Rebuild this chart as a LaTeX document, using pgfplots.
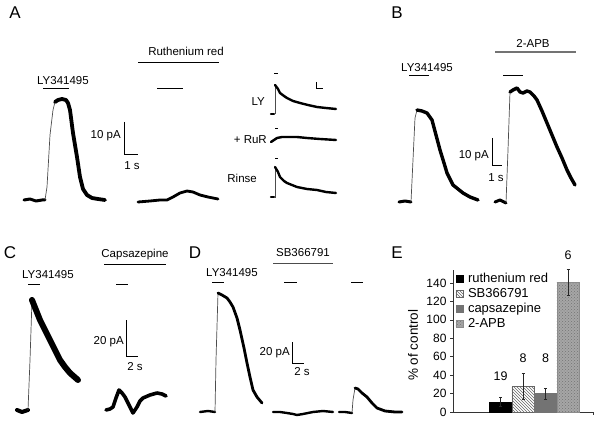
\documentclass[border=0pt]{standalone}
\usepackage{pgfplots}
\pgfplotsset{compat=1.18}
\usepackage{fontspec}
\setmainfont{Liberation Sans}
\usetikzlibrary{patterns}
\begin{document}
\begin{tikzpicture}[
  lbl/.style={font=\fontsize{11.5}{13}\selectfont, inner sep=0pt},
  big/.style={font=\fontsize{17}{20}\selectfont, inner sep=0pt},
  tr/.style={black, line width=3pt, line join=round, line cap=round},
  edge/.style={black!70, line width=0.7pt},
  appl/.style={black, line width=0.9pt},
  sbar/.style={black, line width=0.8pt},
]
\useasboundingbox (0,0) rectangle (600pt,422pt);
\begin{axis}[name=M, at={(0,0)}, anchor=south west, scale only axis,
  width=600pt, height=422pt, xmin=0, xmax=600, ymin=0, ymax=422,
  y dir=reverse, hide axis, clip=false]
% ---------- Panel A ----------
\addplot[tr] coordinates {(24,200) (30,199) (36,201) (42,200) (45,200)};
\addplot[edge] coordinates {(45,200) (47,187) (50,135) (53,110) (55,102)};
\addplot[tr, line width=3.8pt] coordinates {(55,102) (58,100) (62,99) (66,100) (68,103) (70,110) (73,133) (77,157) (80,177) (83,189) (87,195) (92,198) (98,199) (105,200)};
\addplot[tr, line width=2.8pt] coordinates {(138,202) (150,201) (160,200) (167,200) (173,197) (180,193) (187,191) (193,192) (200,195) (208,197) (218,199)};
% small traces
\addplot[tr, line width=2.4pt] coordinates {(271,114) (274,114)};
\addplot[edge] coordinates {(275,114) (275,85)};
\addplot[tr, line width=2.4pt] coordinates {(275,85) (278,89) (280,93) (284,96) (287,98) (293,101) (300,103) (308,105) (317,107) (326,108) (336,109)};
\addplot[tr, line width=2.4pt] coordinates {(271,142) (274,140) (277,138) (282,137) (287,137) (297,137) (307,138) (320,139) (336,140)};
\addplot[tr, line width=2.4pt] coordinates {(271,197) (274,197)};
\addplot[edge] coordinates {(275,198) (275,167)};
\addplot[tr, line width=2.4pt] coordinates {(275,167) (278,172) (280,177) (284,181) (287,183) (292,185) (297,187) (307,189) (317,190) (326,192) (336,193)};
\addplot[appl] coordinates {(274,73) (278,73)};
\addplot[appl] coordinates {(275,128) (278,128)};
\addplot[appl] coordinates {(275,158) (278,158)};
\addplot[sbar] coordinates {(316,82) (316,88) (323,88)};
\node[lbl, anchor=east] at (axis cs:265,102) {LY};
\node[lbl, anchor=east] at (axis cs:267,140) {+ RuR};
\node[lbl, anchor=east] at (axis cs:257,178) {Rinse};
% labels A
\node[big] at (axis cs:15,13) {A};
\node[lbl] at (axis cs:63,81) {LY341495};
\addplot[appl] coordinates {(43,88) (69,88)};
\node[lbl] at (axis cs:186,51) {Ruthenium red};
\addplot[appl] coordinates {(138,62) (219,62)};
\addplot[appl] coordinates {(157,88) (183,88)};
\addplot[sbar] coordinates {(124,122) (124,154) (138,154)};
\node[lbl, anchor=east] at (axis cs:121,136) {10 pA};
\node[lbl] at (axis cs:132,166) {1 s};
% ---------- Panel B ----------
\node[big] at (axis cs:397,13) {B};
\addplot[tr] coordinates {(399,202) (405,201) (411,202)};
\addplot[edge] coordinates {(411,202) (413,160) (415,118) (417,110)};
\addplot[tr, line width=3.4pt] coordinates {(417,110) (422,111) (427,113) (432,120) (436,135) (440,150) (444,163) (447,173) (453,185) (463,193) (470,197) (478,200)};
\addplot[tr] coordinates {(495,202) (500,200) (506,203)};
\addplot[edge] coordinates {(506,203) (508,150) (510,92)};
\addplot[tr, line width=3.4pt] coordinates {(510,92) (513,90) (517,88) (520,92) (523,93) (527,91) (530,92) (534,96) (537,100) (542,111) (547,123) (552,135) (557,147) (562,158) (567,170) (571,178) (575,185)};
\node[lbl] at (axis cs:427,68) {LY341495};
\addplot[appl] coordinates {(409,75) (429,75)};
\node[lbl] at (axis cs:533,43) {2-APB};
\addplot[black!55, line width=1.4pt] coordinates {(495,52) (576,52)};
\addplot[appl] coordinates {(503,75) (523,75)};
\addplot[sbar] coordinates {(492,138) (492,165) (502,165)};
\node[lbl, anchor=east] at (axis cs:489,156) {10 pA};
\node[lbl] at (axis cs:496,178) {1 s};
% ---------- Panel C ----------
\node[big] at (axis cs:10,253) {C};
\addplot[tr, line width=4pt] coordinates {(17,410) (22,412) (28,410)};
\addplot[edge] coordinates {(28,410) (30,360) (32,300)};
\addplot[tr, line width=6pt] coordinates {(32,300) (34,305) (40,320) (45,330) (50,340) (55,350) (60,360) (65,367) (70,373) (78,380)};
\addplot[tr, line width=3.6pt] coordinates {(106,410) (110,409) (113,407) (116,398) (119,390) (122,393) (125,397) (129,405) (133,413) (137,407) (140,401) (143,398) (150,395) (157,393) (162,394) (166,396)};
\node[lbl] at (axis cs:48,275) {LY341495};
\addplot[appl] coordinates {(28,284) (40,284)};
\node[lbl] at (axis cs:135,255) {Capsazepine};
\addplot[appl] coordinates {(104,264) (166,264)};
\addplot[appl] coordinates {(116,284) (128,284)};
\addplot[sbar] coordinates {(126,320) (126,356) (138,356)};
\node[lbl, anchor=east] at (axis cs:124,342) {20 pA};
\node[lbl] at (axis cs:135,367) {2 s};
% ---------- Panel D ----------
\node[big] at (axis cs:195,253) {D};
\addplot[tr, line width=2.4pt] coordinates {(200,412) (208,411) (215,412)};
\addplot[edge] coordinates {(215,412) (216,360) (218,293)};
\addplot[tr, line width=2.8pt] coordinates {(218,293) (222,295) (227,298) (230,302) (233,307) (237,318) (240,330) (244,348) (247,363) (250,377) (253,390) (257,397) (262,403)};
\addplot[tr, line width=2.4pt] coordinates {(273,412) (280,412) (287,413) (293,414) (297,415) (303,414) (313,412) (323,411) (333,412)};
\addplot[tr, line width=2.4pt] coordinates {(339,412) (345,412) (352,413)};
\addplot[edge] coordinates {(352,413) (353,400) (355,388)};
\addplot[tr, line width=2.8pt] coordinates {(355,388) (358,389) (362,393) (367,397) (372,403) (377,408) (385,411) (395,412) (402,412)};
\node[lbl] at (axis cs:232,273) {LY341495};
\addplot[appl] coordinates {(212,282) (224,282)};
\node[lbl] at (axis cs:303,253) {SB366791};
\addplot[black!70, line width=0.9pt] coordinates {(273,263) (333,263)};
\addplot[appl] coordinates {(284,282) (297,282)};
\addplot[appl] coordinates {(351,282) (363,282)};
\addplot[sbar] coordinates {(292,342) (292,363) (304,363)};
\node[lbl, anchor=east] at (axis cs:290,353) {20 pA};
\node[lbl] at (axis cs:302,372) {2 s};
\node[big] at (axis cs:397,253) {E};
\end{axis}
% ---------- Panel E ----------
\begin{axis}[at={(453pt,10pt)}, anchor=south west, scale only axis,
  width=140pt, height=141.9pt, xmin=-1.111, xmax=5.111, ymin=0, ymax=154,
  axis lines=left, axis line style={-, black!80, line width=0.6pt},
  ytick={0,20,...,140}, xtick={5.111}, xticklabels={},
  tick align=outside, major tick length=3pt,
  tick style={black!80, line width=0.6pt},
  ticklabel style={font=\fontsize{12}{14}\selectfont},
  /pgf/number format/assume math mode=true,
  ylabel={\% of control},
  ylabel style={font=\fontsize{13.5}{16}\selectfont, at={(axis description cs:-0.286,0.47)}, anchor=center},
  ybar, bar width=22.5pt, bar shift=0pt, clip=false,
  error bars/y dir=both, error bars/y explicit,
  error bars/error bar style={black!85, line width=0.5pt},
  error bars/error mark options={rotate=90, mark size=1.5pt, black!85, line width=0.5pt},
  legend style={at={(axis description cs:0.01,0.985)}, anchor=north west, draw=none, fill=none,
    font=\fontsize{13}{15}\selectfont, inner sep=0pt, row sep=2.2pt, nodes={inner sep=1pt}},
  legend cell align=left,
  legend image code/.code={\draw[#1, line width=0.3pt] (0pt,-3.5pt) rectangle (7pt,3.5pt); \path (-1pt,0pt) (11pt,0pt);},
]
\addplot[fill=black, draw=black] coordinates {(1,11) +- (0,4.5)};
\addplot[fill=white, draw=black!60, postaction={pattern=north west lines, pattern color=black!60}] coordinates {(2,28) +- (0,14)};
\addplot[fill=black!55, draw=black!55] coordinates {(3,20) +- (0,6)};
\addplot[fill=black!35, draw=black!45, postaction={pattern=crosshatch dots, pattern color=black!55}] coordinates {(4,141) +- (0,14)};
\legend{ruthenium red, SB366791, capsazepine, 2-APB}
\node[font=\fontsize{12.5}{14}\selectfont] at (axis cs:1,39) {19};
\node[font=\fontsize{12.5}{14}\selectfont] at (axis cs:2,58.6) {8};
\node[font=\fontsize{12.5}{14}\selectfont] at (axis cs:3,58.6) {8};
\node[font=\fontsize{12.5}{14}\selectfont] at (axis cs:4,170) {6};
\end{axis}
\end{tikzpicture}
\end{document}
